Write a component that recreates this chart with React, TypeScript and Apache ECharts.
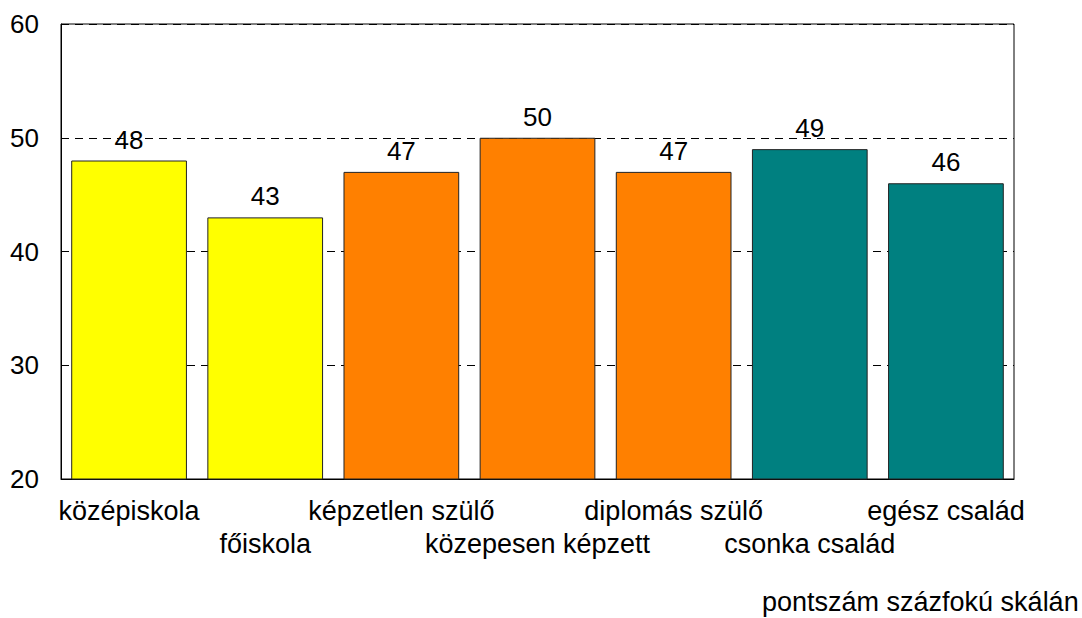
import React, { useEffect, useRef } from "react";
import * as echarts from "echarts";

const categories = [
  "középiskola",
  "főiskola",
  "képzetlen szülő",
  "közepesen képzett",
  "diplomás szülő",
  "csonka család",
  "egész család",
];
const values = [48, 43, 47, 50, 47, 49, 46];
const barColors = ["#FFFF00", "#FFFF00", "#FF8000", "#FF8000", "#FF8000", "#008080", "#008080"];
const yTicks = [20, 30, 40, 50, 60];
const footnote = "pontszám százfokú skálán";

const FONT = "'Liberation Sans', Arial, sans-serif";

export default function App() {
  const ref = useRef<HTMLDivElement>(null);
  useEffect(() => {
    if (!ref.current) return;
    const chart = echarts.init(ref.current, null, { renderer: "svg" });
    chart.setOption({
      animation: false,
      backgroundColor: "#ffffff",
      grid: {
        left: 61,
        right: 68,
        top: 24,
        bottom: 139,
        show: true,
        borderColor: "#000",
        borderWidth: 1,
        backgroundColor: "transparent",
      },
      xAxis: {
        type: "category",
        data: categories,
        axisLine: { show: true, lineStyle: { color: "#000", width: 1 } },
        axisTick: { show: false },
        axisLabel: {
          interval: 0,
          margin: 15,
          color: "#000",
          fontFamily: FONT,
          fontSize: 27,
          lineHeight: 33,
          formatter: (v: string, i: number) => (i % 2 === 1 ? "\n" + v : v),
        },
      },
      yAxis: {
        type: "value",
        min: yTicks[0],
        max: yTicks[yTicks.length - 1],
        interval: 10,
        axisLine: { show: true, lineStyle: { color: "#000", width: 1 } },
        axisTick: { show: false },
        axisLabel: {
          margin: 22,
          color: "#000",
          fontFamily: FONT,
          fontSize: 26,
        },
        splitLine: {
          show: true,
          lineStyle: { color: "#000", width: 1, type: [8, 6] },
        },
      },
      series: [
        {
          type: "bar",
          barCategoryGap: "15%",
          data: values.map((v, i) => ({
            value: v,
            itemStyle: { color: barColors[i], borderColor: "#222", borderWidth: 1 },
          })),
          label: {
            show: true,
            position: "top",
            distance: 8,
            color: "#000",
            fontFamily: FONT,
            fontSize: 26,
          },
        },
      ],
      graphic: [
        {
          type: "text",
          x: 762,
          y: 602,
          style: {
            text: footnote,
            fill: "#000",
            font: `27px ${FONT}`,
            textVerticalAlign: "middle",
            textAlign: "left",
          },
        },
      ],
    });
    return () => chart.dispose();
  }, []);
  return (
    <div
      ref={ref}
      style={{ position: "fixed", left: 0, top: 0, width: 1082, height: 618 }}
    />
  );
}
